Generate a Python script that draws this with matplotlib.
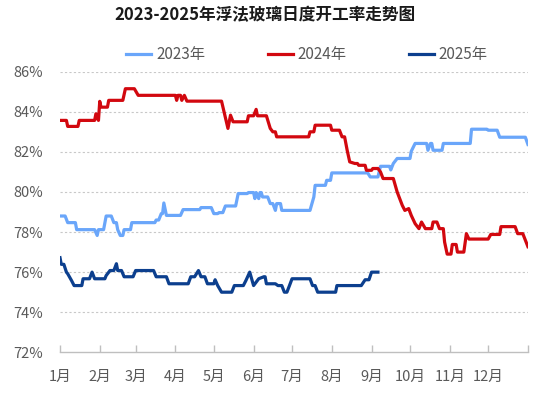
import matplotlib
matplotlib.use("Agg")
import matplotlib.pyplot as plt
from matplotlib.ticker import FuncFormatter

plt.rcParams['font.family'] = ['Noto Sans CJK SC', 'DejaVu Sans']

title = "2023-2025年浮法玻璃日度开工率走势图"
series_names = ["2023年", "2024年", "2025年"]
month_labels = ["1月", "2月", "3月", "4月", "5月", "6月", "7月", "8月", "9月", "10月", "11月", "12月", ""]
month_starts = [0, 31, 59, 90, 120, 151, 181, 212, 243, 273, 304, 334, 365]

# day-of-year, rate (%)
days_2023 = [0, 4, 6, 12, 13, 27, 29, 30, 34, 36, 40, 42, 44, 45, 47, 49, 50, 55, 56, 74, 75, 77,
             79, 80, 81, 83, 94, 96, 109, 110, 118, 120, 123, 124, 127, 129, 137, 139, 146, 147,
             151, 152, 153, 155, 156, 157, 158, 162, 164, 166, 168, 169, 172, 173, 195, 198, 199,
             207, 208, 211, 212, 240, 242, 248, 250, 257, 258, 260, 263, 273, 274, 277, 286, 287,
             289, 290, 291, 298, 299, 320, 321, 333, 334, 341, 343, 363, 365]
vals_2023 = [78.8, 78.8, 78.47, 78.47, 78.12, 78.12, 77.83, 78.12, 78.12, 78.8, 78.8, 78.47, 78.47,
             78.12, 77.83, 77.83, 78.12, 78.12, 78.47, 78.47, 78.6, 78.6, 78.92, 78.92, 79.45,
             78.83, 78.83, 79.12, 79.12, 79.22, 79.22, 78.92, 78.92, 78.97, 78.97, 79.3, 79.3,
             79.92, 79.92, 79.97, 79.97, 79.67, 79.97, 79.67, 79.97, 79.97, 79.75, 79.75, 79.42,
             79.42, 79.08, 79.42, 79.42, 79.08, 79.08, 79.75, 80.33, 80.33, 80.58, 80.58, 80.95,
             80.95, 80.75, 80.75, 81.28, 81.28, 81.1, 81.42, 81.67, 81.67, 82.03, 82.42, 82.42,
             82.08, 82.42, 82.42, 82.08, 82.08, 82.42, 82.42, 83.13, 83.13, 83.08, 83.08, 82.73,
             82.73, 82.37]

days_2024 = [0, 5, 6, 14, 15, 27, 28, 30, 31, 32, 37, 38, 49, 51, 58, 61, 90, 91, 92, 94, 95, 97,
             99, 126, 131, 133, 135, 146, 147, 151, 153, 154, 161, 164, 166, 168, 169, 194, 195,
             198, 199, 211, 212, 218, 220, 222, 224, 226, 230, 232, 233, 238, 239, 243, 244, 248,
             250, 252, 260, 263, 267, 269, 272, 274, 277, 280, 282, 285, 290, 291, 294, 296, 299,
             300, 302, 305, 306, 309, 310, 315, 317, 319, 334, 336, 343, 344, 355, 357, 361, 365]
vals_2024 = [83.57, 83.57, 83.27, 83.27, 83.57, 83.57, 83.9, 83.57, 84.52, 84.23, 84.23, 84.57,
             84.57, 85.15, 85.15, 84.82, 84.82, 84.57, 84.82, 84.82, 84.57, 84.82, 84.53, 84.53,
             83.17, 83.83, 83.5, 83.5, 83.8, 83.8, 84.12, 83.8, 83.8, 83.17, 83.0, 83.0, 82.75,
             82.75, 83.0, 83.0, 83.33, 83.33, 83.08, 83.08, 82.75, 82.75, 82.08, 81.5, 81.42,
             81.42, 81.33, 81.33, 81.08, 81.08, 81.17, 81.17, 81.0, 80.67, 80.67, 80.0, 79.33,
             79.08, 79.17, 78.83, 78.42, 78.17, 78.5, 78.17, 78.17, 78.5, 78.5, 78.17, 78.17,
             77.5, 76.9, 76.9, 77.38, 77.38, 77.0, 77.0, 77.92, 77.65, 77.65, 77.88, 77.88,
             78.27, 78.27, 77.92, 77.92, 77.27]

days_2025 = [0, 1, 3, 5, 6, 9, 11, 17, 18, 23, 25, 27, 35, 36, 39, 42, 44, 45, 48, 50, 57, 59, 73,
             75, 83, 85, 100, 102, 105, 108, 110, 113, 115, 120, 121, 123, 126, 134, 136, 143,
             145, 148, 151, 155, 159, 160, 161, 168, 170, 173, 175, 177, 179, 181, 195, 197, 199,
             201, 215, 216, 235, 238, 241, 243, 248]
vals_2025 = [76.72, 76.39, 76.39, 76.0, 75.92, 75.58, 75.33, 75.33, 75.67, 75.67, 76.0, 75.67,
             75.67, 75.83, 76.08, 76.08, 76.42, 76.08, 76.08, 75.77, 75.77, 76.08, 76.08, 75.77,
             75.77, 75.42, 75.42, 75.77, 75.77, 76.08, 75.77, 75.77, 75.42, 75.42, 75.62, 75.33,
             75.0, 75.0, 75.33, 75.33, 75.58, 76.0, 75.33, 75.67, 75.77, 75.77, 75.42, 75.42,
             75.33, 75.33, 75.0, 75.0, 75.33, 75.67, 75.67, 75.33, 75.33, 75.0, 75.0, 75.33,
             75.33, 75.62, 75.62, 76.0, 76.0]

colors = ["#6AA6FA", "#D2080F", "#0C3F8E"]
grey = "#595959"

fig = plt.figure(figsize=(5.46, 3.93), dpi=100)
ax = fig.add_axes([0.1099, 0.1035, 0.857, 0.7141])

for d, v, c, n in zip([days_2023, days_2024, days_2025], [vals_2023, vals_2024, vals_2025],
                      colors, series_names):
    ax.plot(d, v, color=c, lw=2.3, label=n, solid_joinstyle='round', zorder=3)

ax.set_xlim(0, 365)
ax.set_ylim(72, 86)
ax.set_yticks(range(72, 87, 2))
ax.yaxis.set_major_formatter(FuncFormatter(lambda y, p: f"{int(y)}%"))
ax.set_xticks(month_starts)
ax.set_xticklabels(month_labels)

for y in range(74, 87, 2):
    ax.axhline(y, color="#C8C8C8", lw=0.8, ls=(0, (2, 2)), zorder=1)

for s in ["left", "right", "top"]:
    ax.spines[s].set_visible(False)
ax.spines["bottom"].set_color("#BFBFBF")
ax.spines["bottom"].set_linewidth(1.0)

ax.tick_params(axis='y', length=0, pad=12, labelsize=10.5, labelcolor=grey)
ax.tick_params(axis='x', direction='in', length=5, width=1.0, color="#BFBFBF",
               pad=13, labelsize=10.5, labelcolor=grey)

fig.text(0.485, 0.962, title, fontsize=12, fontweight='bold', color="#1a1a1a",
         ha='center', va='center')
ax.legend(loc='lower center', bbox_to_anchor=(0.528, 1.0), ncol=3, frameon=False,
          fontsize=11, labelcolor=grey, handlelength=1.65, columnspacing=4.1,
          handletextpad=0.3, borderaxespad=0.15)

fig.savefig("out.png", dpi=100)
